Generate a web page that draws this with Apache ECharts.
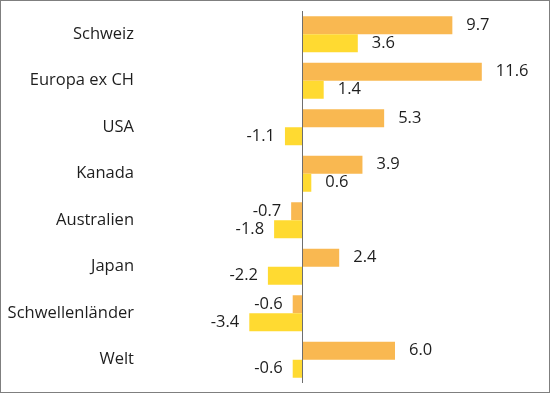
<!DOCTYPE html>
<html><head><meta charset="utf-8">
<script src="https://cdn.jsdelivr.net/npm/echarts@6/dist/echarts.min.js"></script>
<style>
html,body{margin:0;padding:0;background:#fff;}
#wrap{width:550px;height:393px;box-sizing:border-box;border:1px solid #7f7f7f;}
#c{width:548px;height:391px;}
</style></head>
<body><div id="wrap"><div id="c"></div></div>
<script>
const categories = ['Schweiz','Europa ex CH','USA','Kanada','Australien','Japan','Schwellenländer','Welt'];
const seriesA = [9.7, 11.6, 5.3, 3.9, -0.7, 2.4, -0.6, 6.0];
const seriesB = [3.6, 1.4, -1.1, 0.6, -1.8, -2.2, -3.4, -0.6];
const colorA = '#F9B851';
const colorB = '#FFDA31';
const font = '"Open Sans", sans-serif';

function lbl() {
  return {
    show: true,
    position: 'right',
    distance: 13,
    fontFamily: font, fontSize: 16.5, color: '#1e1e1e',
    formatter: p => p.value.toFixed(1)
  };
}
function mkData(arr) {
  return arr.map(v => ({
    value: v,
    label: v < 0 ? { position: 'left', distance: 10 } : { position: 'right', distance: 14 }
  }));
}
const chart = echarts.init(document.getElementById('c'));
chart.setOption({
  animation: false,
  grid: { left: 146, right: 14.5, top: 10, bottom: 9, containLabel: false },
  xAxis: {
    type: 'value', min: -10, max: 15, interval: 5,
    show: false
  },
  yAxis: {
    type: 'category', data: categories, inverse: true,
    axisLine: { show: false }, axisTick: { show: false }, splitLine: { show: false },
    axisLabel: { margin: 13, fontFamily: font, fontSize: 16.5, color: '#1e1e1e' }
  },
  series: [
    { type: 'bar', data: mkData(seriesA), itemStyle: { color: colorA }, barGap: '0%', barCategoryGap: '22.6%', label: lbl(),
      markLine: { silent: true, symbol: 'none', label: { show: false },
        lineStyle: { color: '#6e6e6e', width: 1, type: 'solid' }, data: [{ xAxis: 0 }] } },
    { type: 'bar', data: mkData(seriesB), itemStyle: { color: colorB }, barGap: '0%', barCategoryGap: '22.6%', label: lbl() }
  ]
});
</script></body></html>
